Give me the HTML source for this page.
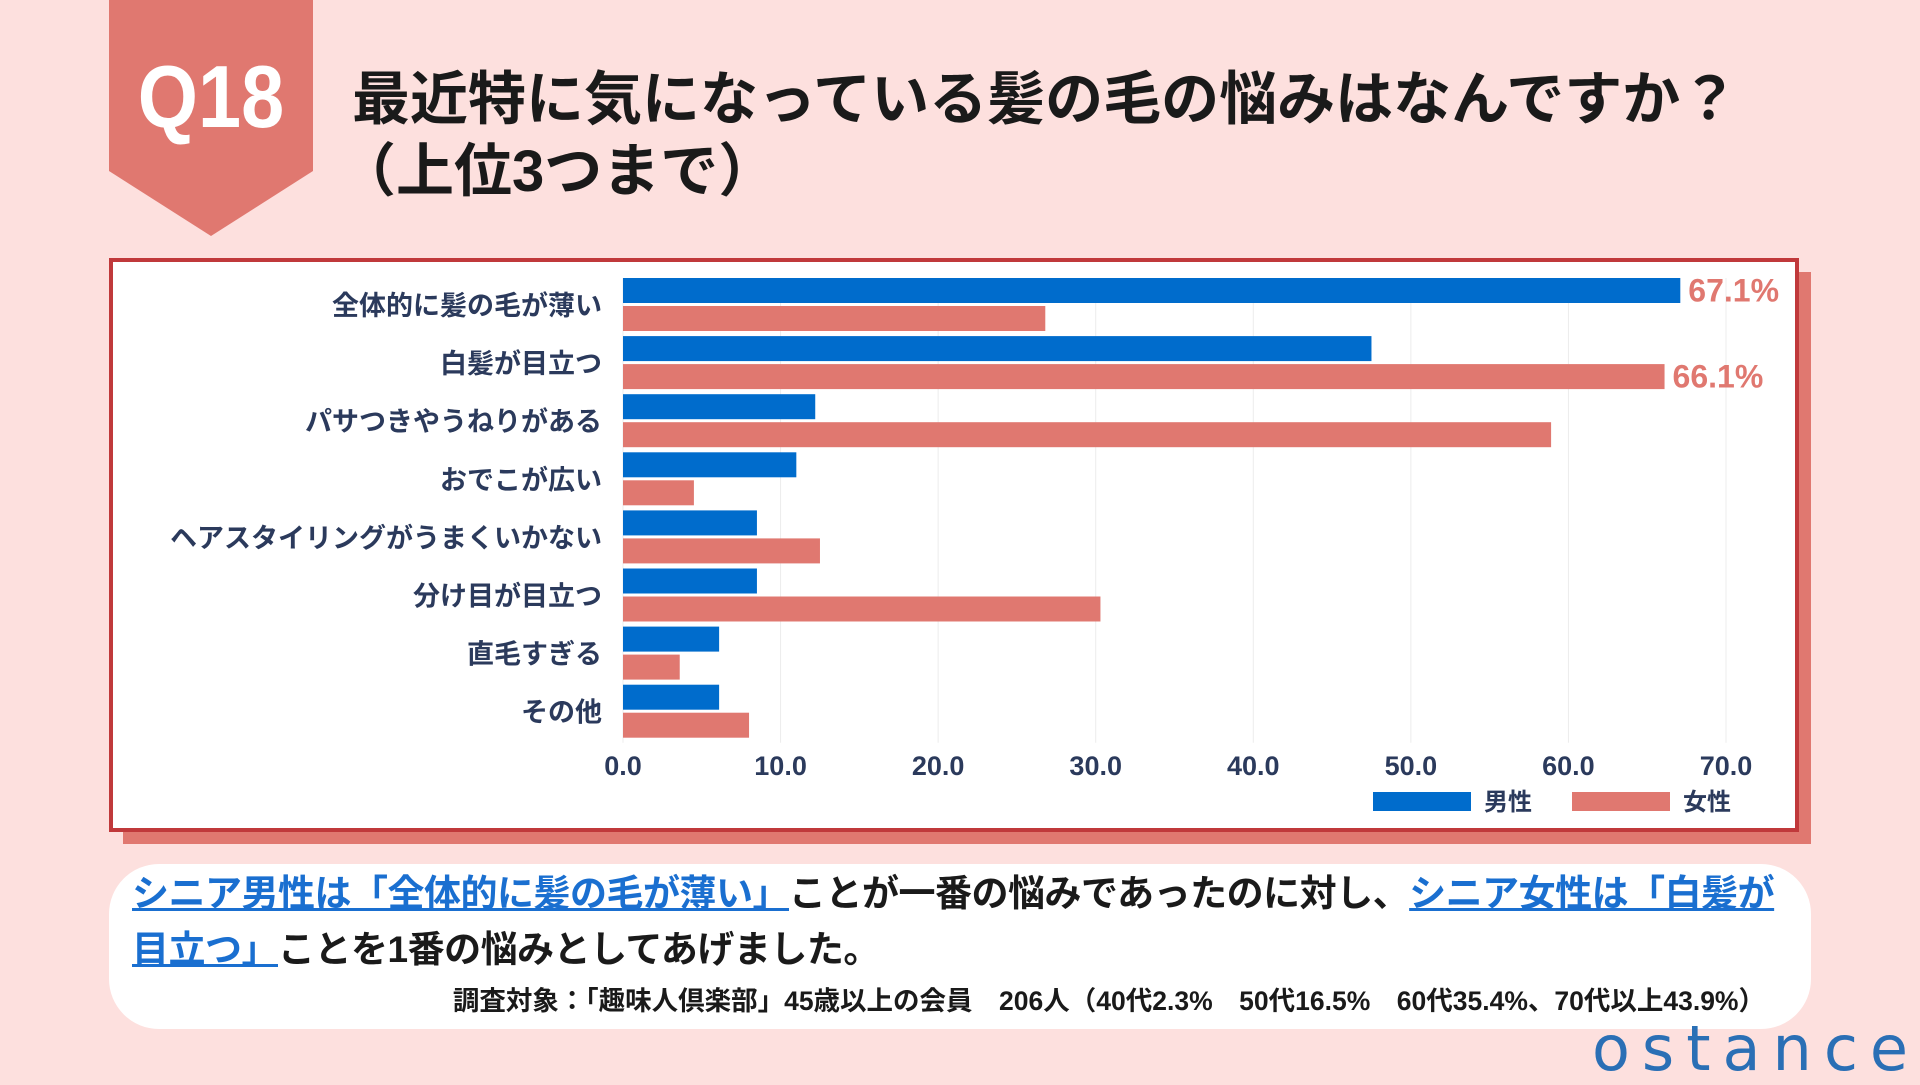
<!DOCTYPE html>
<html><head><meta charset="utf-8">
<style>
body{margin:0;width:1920px;height:1080px;overflow:hidden;background:#fde0de;font-family:"Liberation Sans","Noto Sans CJK JP",sans-serif;position:relative}
.abs{position:absolute}
</style></head><body>
<svg class="abs" style="left:0;top:0" width="1920" height="1080">
<polygon points="109,0 313,0 313,171 211,236 109,171" fill="#e07870"/>
<text x="211" y="127" text-anchor="middle" font-size="88" font-weight="bold" fill="#fff" font-family="Liberation Sans, sans-serif" transform="translate(211 0) scale(0.88 1) translate(-211 0)">Q18</text>
</svg>
<div class="abs" style="left:352px;top:64px;font-size:58px;font-weight:bold;line-height:72px;color:#1a1a1a;font-family:'Liberation Sans','Noto Sans CJK JP',sans-serif;white-space:nowrap">最近特に気になっている髪の毛の悩みはなんですか？<br><span style="margin-left:-14px">（上位3つまで）</span></div>
<div class="abs" style="left:123px;top:272px;width:1688px;height:572px;background:#e07870"></div>
<div class="abs" style="left:109px;top:258px;width:1682px;height:566px;background:#fff;border:4px solid #c0393b"></div>
<svg id="chart" class="abs" style="left:0;top:0" width="1920" height="1080"></svg>
<div class="abs" style="left:109px;top:864px;width:1702px;height:165px;background:#fff;border-radius:50px"></div>
<div class="abs" style="left:132px;top:866px;width:1660px;font-size:37px;letter-spacing:-0.5px;font-weight:bold;line-height:56px;color:#1a1a1a">
<span style="color:#1a6fd0;text-decoration:underline">シニア男性は「全体的に髪の毛が薄い」</span>ことが一番の悩みであったのに対し、<span style="color:#1a6fd0;text-decoration:underline">シニア女性は「白髪が目立つ」</span>ことを1番の悩みとしてあげました。</div>
<div class="abs" style="right:155px;top:979px;font-size:26.5px;font-weight:bold;color:#1a1a1a;white-space:nowrap">調査対象：「趣味人倶楽部」45歳以上の会員　206人（40代2.3%　50代16.5%　60代35.4%、70代以上43.9%）</div>
<div class="abs" style="left:1592px;top:1012px;font-size:62px;color:#2a6fb5;letter-spacing:12px;font-family:'DejaVu Sans',sans-serif;font-weight:normal">ostance</div>
<script>
const categories=["全体的に髪の毛が薄い","白髪が目立つ","パサつきやうねりがある","おでこが広い","ヘアスタイリングがうまくいかない","分け目が目立つ","直毛すぎる","その他"];
const maleValues=[67.1,47.5,12.2,11.0,8.5,8.5,6.1,6.1];
const femaleValues=[26.8,66.1,58.9,4.5,12.5,30.3,3.6,8.0];
const tickValues=[0,10,20,30,40,50,60,70];
const tickLabels=["0.0","10.0","20.0","30.0","40.0","50.0","60.0","70.0"];
const valueLabels=[{series:"male",index:0,text:"67.1%"},{series:"female",index:1,text:"66.1%"}];
const NS="http://www.w3.org/2000/svg";
const svg=document.getElementById('chart');
const x0=623,x1=1726,xmax=70,top0=278,pitch=58.1,bh=25;
const xs=v=>x0+(v/xmax)*(x1-x0);
function mk(t,a){const e=document.createElementNS(NS,t);for(const k in a)e.setAttribute(k,a[k]);svg.appendChild(e);return e;}
tickValues.forEach((t,i)=>{
 const g=mk('line',{x1:xs(t),x2:xs(t),y1:top0,y2:top0+pitch*8,stroke:'#ececec','stroke-width':1});
 
 
 const l=mk('text',{x:xs(t),y:775,'text-anchor':'middle','font-size':27,'font-weight':'bold',fill:'#2b3a5c'});
 l.textContent=tickLabels[i];
 
 
});
categories.forEach((c,i)=>{
 const y=top0+i*pitch;
 const m=mk('rect',{x:x0,y:y,width:xs(maleValues[i])-x0,height:bh,fill:'#006ccc'});
 
 
 const f=mk('rect',{x:x0,y:y+bh+3,width:xs(femaleValues[i])-x0,height:bh,fill:'#e07870'});
 
 
 const t=mk('text',{x:602,y:y+bh+12,'text-anchor':'end','font-size':27,'font-weight':'bold',fill:'#2b3a5c'});
 t.textContent=c;
 
 
});
valueLabels.forEach(v=>{
 const val=v.series==='male'?maleValues[v.index]:femaleValues[v.index];
 const y=top0+v.index*pitch+(v.series==='male'?0:bh+3)+bh/2+11;
 const t=mk('text',{x:xs(val)+8,y:y,'font-size':32,'font-weight':'bold',fill:'#e07870'});
 t.textContent=v.text;
 
 
});
const lg=[["男性","#006ccc",1373],["女性","#e07870",1572]];
lg.forEach(l=>{
 const r=mk('rect',{x:l[2],y:792,width:98,height:19,fill:l[1]});
 
 
 const t=mk('text',{x:l[2]+111,y:810,'font-size':24,'font-weight':'bold',fill:'#2b3a5c'});
 t.textContent=l[0];
 
 
});
</script>
</body></html>
